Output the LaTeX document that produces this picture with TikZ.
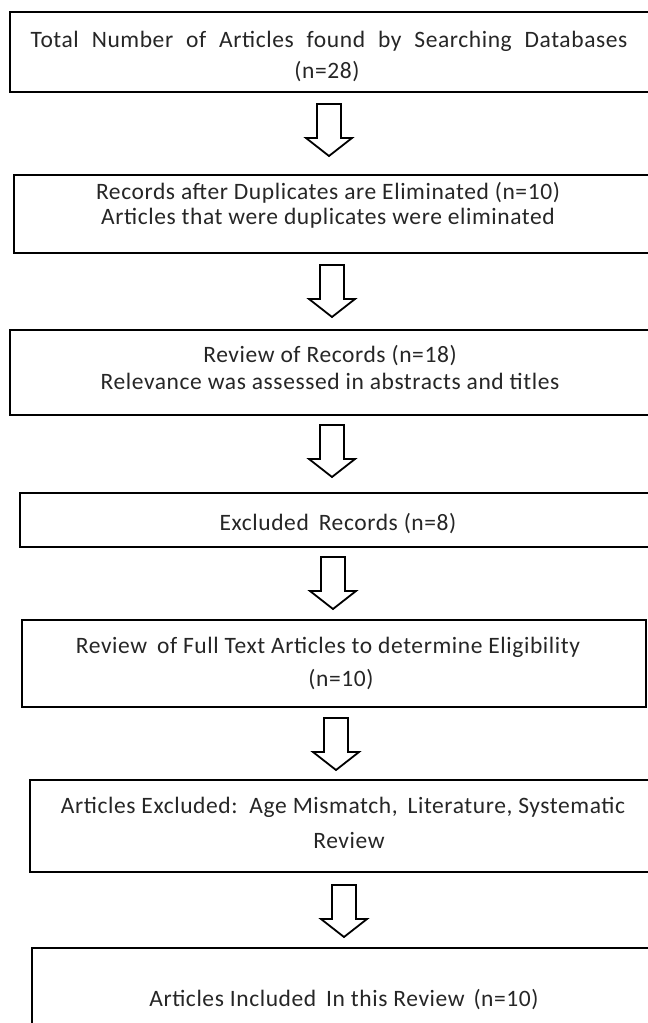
\documentclass[tikz,border=0pt]{standalone}
\usepackage{fontspec}
\setmainfont{Carlito}[LetterSpace=2.5]
\begin{document}
\begin{tikzpicture}[x=1pt,y=-1pt,
  box/.style={draw=black, line width=2.8pt, fill=white},
  txt/.style={align=center, inner sep=0pt, font=\fontsize{23.5}{25}\selectfont, text=black!85},
  blk/.style={draw=black, line width=1.8pt, fill=white, line join=miter}]
\useasboundingbox[fill=white] (0,0) rectangle (648,1023);
% boxes
\draw[box] (10,12) rectangle (655,92);
\draw[box] (14,175) rectangle (655,253);
\draw[box] (10,330) rectangle (655,415);
\draw[box] (20,493) rectangle (655,547);
\draw[box] (22,620) rectangle (646,707);
\draw[box] (30,780) rectangle (655,872);
\draw[box] (32,948) rectangle (655,1040);
% texts
\node[txt] (t1a) at (329,41) {Total\hspace{7pt} Number\hspace{7pt} of\hspace{7pt} Articles\hspace{7pt} found\hspace{7pt} by\hspace{7pt} Searching\hspace{7pt} Databases};
\node[txt] (t1b) at (327,72) {(n=28)};
\node[txt] (t2a) at (328,193) {Records after Duplicates are Eliminated (n=10)};
\node[txt] (t2b) at (328,218) {Articles that were duplicates were eliminated};
\node[txt] (t3a) at (330,356) {Review of Records (n=18)};
\node[txt] (t3b) at (330,381) {Relevance was assessed in abstracts and titles};
\node[txt] (t4) at (338,524) {Excluded\hspace{4pt} Records (n=8)};
\node[txt] (t5a) at (328,647) {Review\hspace{4pt} of Full Text Articles to determine Eligibility};
\node[txt] (t5b) at (341,680) {(n=10)};
\node[txt] (t6a) at (343,807) {Articles Excluded:\hspace{4pt} Age Mismatch,\hspace{4pt} Literature, Systematic};
\node[txt] (t6b) at (349,840) {Review};
\node[txt] (t7) at (344,1000) {Articles Included\hspace{4pt} In this Review\hspace{3pt} (n=10)};
% arrows
\coordinate (a1) at (329,104);
\coordinate (a2) at (332,265);
\coordinate (a3) at (332,425);
\coordinate (a4) at (333,557);
\coordinate (a5) at (336,718);
\coordinate (a6) at (344,885);
\foreach \a in {a1,a2,a3,a4,a5,a6}{
  \draw[blk] (\a) ++(-12,0) -- ++(0,34) -- ++(-11,0) -- ++(23,18) -- ++(23,-18) -- ++(-11,0) -- ++(0,-34) -- cycle;
}
\end{tikzpicture}
\end{document}
